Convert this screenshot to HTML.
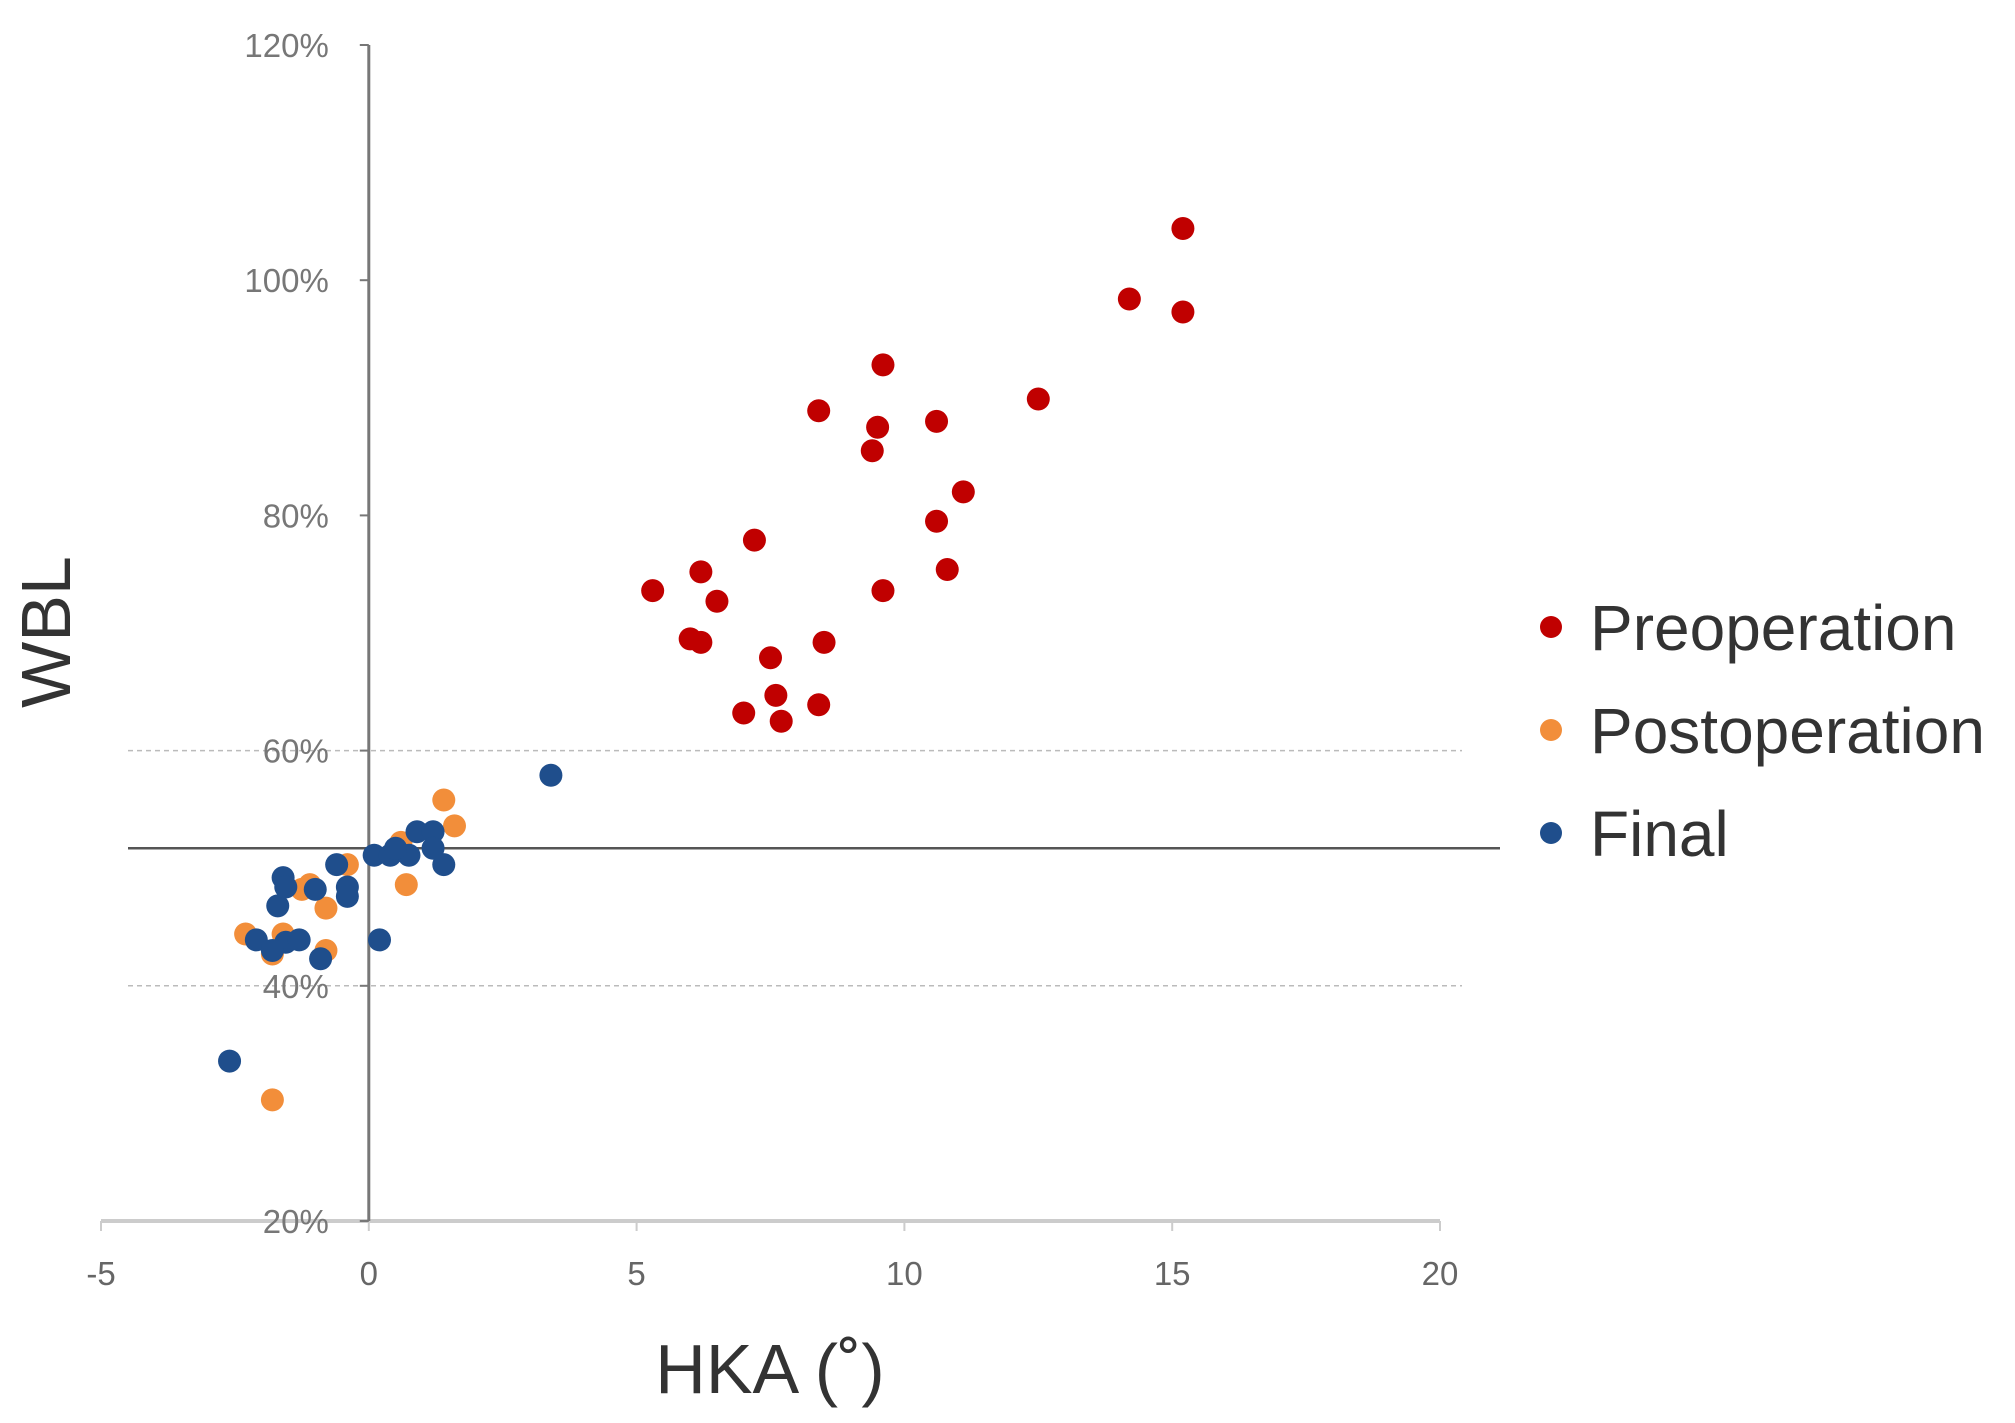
<!DOCTYPE html>
<html><head><meta charset="utf-8"><style>
html,body{margin:0;padding:0;background:#fff;}
svg{display:block;font-family:"Liberation Sans",sans-serif;}
</style></head><body>
<svg id="chart" width="2015" height="1423" viewBox="0 0 2015 1423">
<g id="grid"></g>
<g id="axes"></g>
<g id="marks"></g>
<text x="70" y="632" font-size="70" fill="#333" text-anchor="middle" transform="rotate(-90 70 632)">WBL</text>
<text x="770" y="1393" font-size="70" fill="#333" text-anchor="middle">HKA (˚)</text>
<g>
<g><circle cx="1551" cy="627" r="11" fill="#c00000"/><text x="1590" y="650" font-size="64" fill="#333">Preoperation</text></g>
<g><circle cx="1551" cy="730" r="11" fill="#f28e3a"/><text x="1590" y="753" font-size="64" fill="#333">Postoperation</text></g>
<g><circle cx="1551" cy="833" r="11" fill="#1f4e8c"/><text x="1590" y="856" font-size="64" fill="#333">Final</text></g>
</g>
</svg>
<script>
const xTicks = [-5, 0, 5, 10, 15, 20];
const yTicks = [20, 40, 60, 80, 100, 120];
const preX = [15.2,14.2,15.2,12.5,9.6,8.4,9.5,10.6,9.4,11.1,10.6,10.8,9.6,7.2,6.2,6.5,5.3,6.0,6.2,8.5,7.5,7.6,8.4,7.0,7.7];
const preY = [104.4,98.4,97.3,89.9,92.8,88.9,87.5,88.0,85.5,82.0,79.5,75.4,73.6,77.9,75.2,72.7,73.6,69.5,69.2,69.2,67.9,64.7,63.9,63.2,62.5];
const postX = [-1.8,1.4,1.6,0.7,-0.8,-0.8,-2.3,-1.8,-1.6,-1.25,-0.4,0.6,-1.1];
const postY = [30.3,55.8,53.6,48.6,46.6,43.0,44.4,42.7,44.4,48.2,50.3,52.2,48.6];
const finX = [3.4,-2.6,-2.1,-1.6,-1.7,-1.55,-1.3,-1.8,-0.9,0.2,-1.0,-0.6,-0.4,-0.4,-1.55,0.1,0.4,0.75,0.9,1.2,1.2,1.4,0.5];
const finY = [57.9,33.6,43.9,49.2,46.8,43.7,43.9,43.0,42.3,43.9,48.2,50.3,48.4,47.6,48.4,51.1,51.1,51.1,53.1,53.1,51.7,50.3,51.7];
const refLine = 51.7;

const NS = "http://www.w3.org/2000/svg";
function xs(v){ return 101 + (v + 5) * (1440 - 101) / 25; }
function ys(v){ return 1221 - (v - 20) * (1221 - 45) / 100; }
function mk(tag, attrs, parent){
  const e = document.createElementNS(NS, tag);
  for (const k in attrs) e.setAttribute(k, attrs[k]);
  parent.appendChild(e); return e;
}
const grid = document.getElementById('grid');
const axes = document.getElementById('axes');
const marks = document.getElementById('marks');

[40, 60].forEach(v => {
  const l = mk('line', {x1:128, x2:1462, y1:ys(v), y2:ys(v), stroke:'#bbb', 'stroke-width':1.5, 'stroke-dasharray':'5,4'}, grid);
  
  
});
const rl = mk('line', {x1:128, x2:1500, y1:ys(refLine), y2:ys(refLine), stroke:'#555', 'stroke-width':2.5}, grid);



const xa = mk('line', {x1:xs(-5), x2:xs(20), y1:ys(20), y2:ys(20), stroke:'#ccc', 'stroke-width':4}, axes);


const ya = mk('line', {x1:xs(0), x2:xs(0), y1:ys(120), y2:ys(20), stroke:'#777', 'stroke-width':3}, axes);



xTicks.forEach(t => {
  mk('line', {x1:xs(t), x2:xs(t), y1:ys(20), y2:ys(20)+10, stroke:'#ccc', 'stroke-width':2}, axes);
  const tx = mk('text', {x:xs(t), y:ys(20)+64, 'font-size':33, fill:'#666', 'text-anchor':'middle'}, axes);
  tx.textContent = t;
  
  
});
yTicks.forEach(t => {
  mk('line', {x1:xs(0)-9, x2:xs(0), y1:ys(t), y2:ys(t), stroke:'#777', 'stroke-width':2}, axes);
  const tx = mk('text', {x:xs(0)-40, y:ys(t)+12, 'font-size':33, fill:'#777', 'text-anchor':'end'}, axes);
  tx.textContent = t + '%';
  
  
});

function series(X, Y, color, name){
  X.forEach((x, i) => {
    const c = mk('circle', {cx:xs(x), cy:ys(Y[i]), r:11.5, fill:color}, marks);
    
    
  });
}
series(preX, preY, '#c00000', 'preoperation');
series(postX, postY, '#f28e3a', 'postoperation');
series(finX, finY, '#1f4e8c', 'final');
</script>
</body></html>
